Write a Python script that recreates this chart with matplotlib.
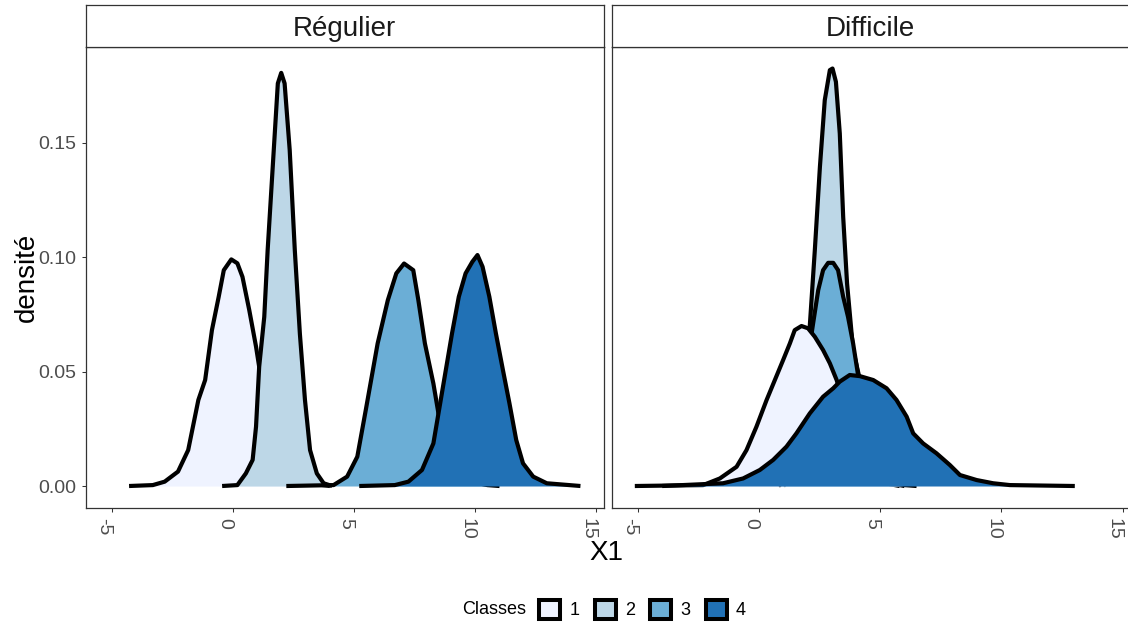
import matplotlib
matplotlib.use("Agg")
import matplotlib.pyplot as plt
from matplotlib.patches import Patch

plt.rcParams['font.family'] = ['Liberation Sans', 'DejaVu Sans']
plt.rcParams['axes.unicode_minus'] = False

# classes and colours (Blues, 4 classes)
classes = ['1', '2', '3', '4']
fills = ['#EFF3FF', '#BDD7E7', '#6BAED6', '#2171B5']
facets = ['Régulier', 'Difficile']

# density curves - panel "Régulier"
reg_x1 = [-4.29, -3.31, -2.82, -2.27, -1.85, -1.43, -1.15, -0.87, -0.59, -0.38, -0.07, 0.18,
          0.39, 0.67, 0.95, 1.08, 1.30, 1.60, 2.00, 2.50, 3.00, 3.50, 4.00]
reg_y1 = [0.0, 0.0004, 0.0019, 0.0063, 0.0157, 0.0376, 0.0463, 0.0681, 0.0827, 0.0943, 0.0990, 0.0973,
          0.0914, 0.0769, 0.0609, 0.0521, 0.043, 0.032, 0.018, 0.0075, 0.0025, 0.0007, 0.0]
reg_x2 = [-0.45, 0.18, 0.53, 0.81, 0.95, 1.08, 1.29, 1.43, 1.64, 1.85, 1.99, 2.13, 2.34, 2.55,
          2.76, 2.97, 3.18, 3.46, 3.74, 4.09]
reg_y2 = [0.0, 0.0004, 0.0055, 0.0114, 0.0259, 0.0521, 0.0739, 0.1031, 0.1395, 0.1759, 0.1805, 0.1759,
          0.1468, 0.1031, 0.0665, 0.0376, 0.0157, 0.0055, 0.0012, 0.0]
reg_x3 = [2.20, 4.15, 4.71, 5.13, 5.48, 5.97, 6.39, 6.74, 7.06, 7.44, 7.65, 7.92, 8.27, 8.48,
          8.75, 9.00, 9.50, 10.00, 10.50, 11.00]
reg_y3 = [0.0, 0.0004, 0.0041, 0.0128, 0.0332, 0.0623, 0.0812, 0.0929, 0.0972, 0.0943, 0.0812, 0.0623,
          0.0448, 0.0317, 0.022, 0.014, 0.005, 0.0015, 0.0004, 0.0]
reg_x4 = [5.21, 6.68, 7.24, 7.80, 8.27, 8.48, 8.76, 9.04, 9.32, 9.60, 9.88, 10.09, 10.30, 10.58,
          10.85, 11.14, 11.41, 11.69, 11.97, 12.39, 12.95, 14.34]
reg_y4 = [0.0, 0.0004, 0.0019, 0.0070, 0.0186, 0.0317, 0.0492, 0.0667, 0.0827, 0.0929, 0.0980, 0.1009,
          0.0958, 0.0827, 0.0667, 0.0507, 0.0361, 0.0201, 0.0099, 0.0041, 0.0012, 0.0]

# panel "Difficile"
dif_x1 = [-5.13, -2.31, -1.62, -0.93, -0.52, -0.11, 0.31, 0.65, 0.99, 1.27, 1.47, 1.75, 2.02, 2.30,
          2.64, 2.92, 3.20, 3.50, 4.00, 4.50, 5.00, 5.50, 6.00, 6.50]
dif_y1 = [0.0, 0.0004, 0.0033, 0.0084, 0.0157, 0.0259, 0.0376, 0.0463, 0.0550, 0.0623, 0.0681, 0.0699,
          0.0689, 0.0652, 0.0594, 0.0536, 0.0463, 0.036, 0.021, 0.010, 0.004, 0.0015, 0.0004, 0.0]
dif_x2 = [1.00, 1.30, 1.60, 1.85, 2.09, 2.30, 2.51, 2.71, 2.92, 3.03, 3.17, 3.33, 3.47, 3.63,
          3.88, 4.13, 4.40, 4.70, 5.00, 5.40, 5.80]
dif_y2 = [0.0, 0.004, 0.02, 0.045, 0.0696, 0.1031, 0.1395, 0.1686, 0.1817, 0.1824, 0.1766, 0.1540,
          0.1176, 0.0885, 0.0594, 0.0478, 0.028, 0.012, 0.004, 0.0008, 0.0]
dif_x3 = [0.80, 1.20, 1.50, 1.80, 2.00, 2.23, 2.44, 2.64, 2.85, 3.06, 3.26, 3.47, 3.67, 3.88,
          4.09, 4.40, 4.70, 5.00, 5.50, 6.00]
dif_y3 = [0.0, 0.004, 0.015, 0.035, 0.055, 0.0711, 0.0856, 0.0943, 0.0975, 0.0975, 0.0943, 0.0827,
          0.0739, 0.0623, 0.0481, 0.030, 0.015, 0.006, 0.001, 0.0]
dif_x4 = [-4.00, -1.49, -0.66, 0.03, 0.58, 1.13, 1.54, 2.09, 2.64, 3.06, 3.33, 3.74, 4.16, 4.71,
          5.26, 5.67, 6.09, 6.36, 6.77, 7.32, 7.87, 8.29, 8.98, 9.66, 10.35, 13.03]
dif_y4 = [0.0, 0.0012, 0.0033, 0.0070, 0.0114, 0.0172, 0.0230, 0.0317, 0.0390, 0.0427, 0.0456, 0.0485,
          0.0480, 0.0463, 0.0427, 0.0376, 0.0303, 0.0230, 0.0186, 0.0143, 0.0092, 0.0048, 0.0026,
          0.0012, 0.0004, 0.0]

x_ticks = [-5, 0, 5, 10, 15]
y_ticks = [0.0, 0.05, 0.10, 0.15]
y_ticklabels = ['0.00', '0.05', '0.10', '0.15']

curves = {
    'Régulier': [(reg_x1, reg_y1), (reg_x2, reg_y2), (reg_x3, reg_y3), (reg_x4, reg_y4)],
    'Difficile': [(dif_x1, dif_y1), (dif_x2, dif_y2), (dif_x3, dif_y3), (dif_x4, dif_y4)],
}
# stacking order as seen in the picture
draw_order = {'Régulier': [0, 1, 2, 3], 'Difficile': [1, 2, 0, 3]}

W, H = 1128, 626
fig = plt.figure(figsize=(W / 100, H / 100), dpi=100)


def box(l, t, r, b):
    return [l / W, 1 - b / H, (r - l) / W, (b - t) / H]


edge = '#333333'
panel_left = {'Régulier': 85.7, 'Difficile': 611.8}

for name in facets:
    l = panel_left[name]
    ax = fig.add_axes(box(l, 47, l + 518, 508.3))
    strip = fig.add_axes(box(l, 5, l + 518, 47))

    for k, i in enumerate(draw_order[name]):
        xs, ys = curves[name][i]
        ax.fill_between(xs, ys, 0, color=fills[i], lw=0, zorder=2 + 2 * k)
        ax.plot(xs, ys, color='black', lw=3.0, zorder=3 + 2 * k,
                solid_joinstyle='round', solid_capstyle='butt')

    ax.set_xlim(-6.08, 15.3)
    ax.set_ylim(-0.00974, 0.1918)
    ax.set_xticks(x_ticks)
    ax.set_yticks(y_ticks)
    ax.set_yticklabels(y_ticklabels)
    ax.tick_params(direction='out', length=3.2, width=0.75, color=edge,
                   labelsize=14, labelcolor='#4D4D4D', pad=3.5)
    ax.tick_params(axis='x', pad=4)
    for lab in ax.get_xticklabels():
        lab.set_rotation(-90)
        lab.set_rotation_mode('anchor')
        lab.set_ha('left')
        lab.set_va('top')
    if name != facets[0]:
        ax.tick_params(axis='y', left=False, labelleft=False)
    for sp in ax.spines.values():
        sp.set_color(edge)
        sp.set_linewidth(0.9)

    strip.set_xticks([])
    strip.set_yticks([])
    for sp in strip.spines.values():
        sp.set_color(edge)
        sp.set_linewidth(0.9)
    strip.text(0.5, 0.43, name, transform=strip.transAxes, ha='center', va='center',
               fontsize=20, color='#1A1A1A')

fig.text(27 / W, 1 - 277.5 / H, 'densité', rotation=90, ha='center', va='center', fontsize=20)
fig.text(606.7 / W, 1 - 553 / H, 'X1', ha='center', va='center', fontsize=20)

handles = [Patch(facecolor=c, edgecolor='black', linewidth=2.9) for c in fills]
fig.legend(handles, classes, loc='center', bbox_to_anchor=(642.5 / W, 1 - 609.5 / H), ncol=4,
           frameon=False, fontsize=13, handlelength=1.17, handleheight=1.25,
           handletextpad=0.5, columnspacing=0.85, borderpad=0, borderaxespad=0)
fig.text(526 / W, 1 - 610 / H, 'Classes', ha='right', va='center', fontsize=13)

fig.savefig('out.png', dpi=100)
